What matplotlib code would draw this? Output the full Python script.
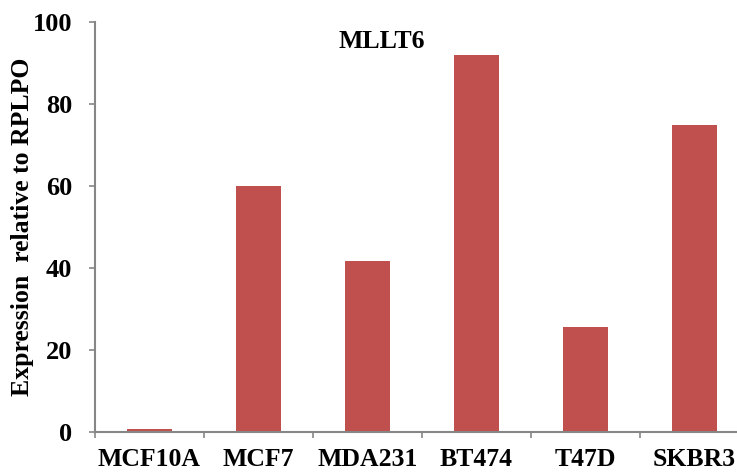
import matplotlib
matplotlib.use('Agg')
import matplotlib.pyplot as plt
import numpy as np

# data
cell_lines = ['MCF10A', 'MCF7', 'MDA231', 'BT474', 'T47D', 'SKBR3']
expression = [0.8, 60.0, 41.6, 92.0, 25.6, 74.9]
y_ticks = [0, 20, 40, 60, 80, 100]
gene = 'MLLT6'

plt.rcParams['font.family'] = ['Liberation Serif', 'DejaVu Serif']
plt.rcParams['font.weight'] = 'bold'

fig = plt.figure(figsize=(7.37, 4.75), dpi=100)
# axes spill past the right edge like the cropped original
ax = fig.add_axes([95 / 737, 43 / 475, 654 / 737, 410 / 475])

x = np.arange(len(cell_lines))
ax.bar(x, expression, width=0.42, color='#C0504D', zorder=2)

ax.set_xlim(-0.5, len(cell_lines) - 0.5)
ax.set_ylim(0, 100)

axis_grey = '#868686'
for side in ['top', 'right']:
    ax.spines[side].set_visible(False)
for side in ['left', 'bottom']:
    ax.spines[side].set_color(axis_grey)
    ax.spines[side].set_linewidth(1.5)

ax.set_yticks(y_ticks)
ax.tick_params(axis='y', length=4.5, width=1.2, color=axis_grey,
               pad=12, labelsize=19)

# labels under the bars, tick marks between the categories
ax.set_xticks(x)
ax.set_xticklabels(cell_lines)
ax.set_xticks(np.arange(-0.5, len(cell_lines)), minor=True)
ax.tick_params(axis='x', which='major', length=0, pad=11.5, labelsize=18.5)
ax.tick_params(axis='x', which='minor', length=4.5, width=1.2, color=axis_grey)

ax.set_ylabel('Expression  relative to RPLPO', fontsize=18.5, fontweight='bold',
              labelpad=-1)
ax.text(382 / 737, 1 - 42 / 475, gene, transform=fig.transFigure, ha='center',
        va='center', fontsize=18.5, fontweight='bold')

plt.savefig('out.png', dpi=100)
